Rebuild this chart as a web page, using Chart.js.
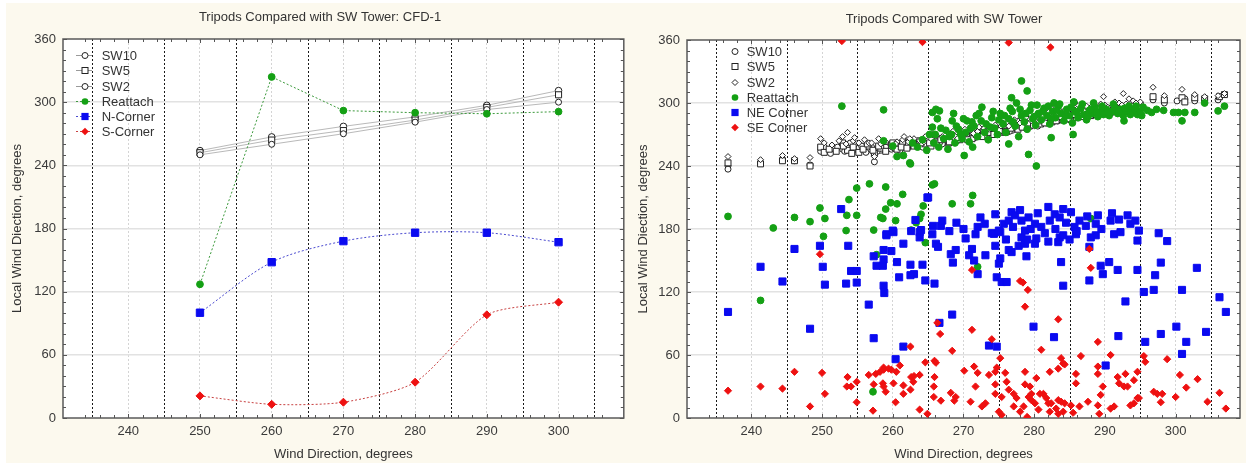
<!DOCTYPE html>
<html>
<head>
<meta charset="utf-8">
<script src="https://cdn.jsdelivr.net/npm/chart.js@4.4.1/dist/chart.umd.min.js"></script>
<style>
  html, body { margin:0; padding:0; background:#ffffff; }
  body { width:1246px; height:465px; position:relative; overflow:hidden; font-family:"Liberation Sans", Arial, sans-serif; }
  #panelBg { position:absolute; left:6px; top:3px; width:1240px; height:460px; background:#fcf9ee; }
  canvas { position:absolute; top:0; }
  .legend { position:absolute; font-size:13px; color:#333; line-height:15.3px; }
  .legend .item { height:15.3px; white-space:nowrap; position:relative; }
  .legend svg { position:absolute; top:0; }
  .legend span { position:absolute; top:0; }
</style>
</head>
<body>
<div id="panelBg"></div>
<canvas id="leftChart" width="630" height="465" style="left:0px"></canvas>
<canvas id="rightChart" width="616" height="465" style="left:630px"></canvas>
<div id="legendLeft" class="legend" style="left:74px; top:48px;"></div>
<div id="legendRight" class="legend" style="left:724px; top:44px;"></div>
<script>
// ---------------- DATA ----------------
const leftTitle = 'Tripods Compared with SW Tower: CFD-1';
const rightTitle = 'Tripods Compared with SW Tower';
const xAxisTitle = 'Wind Direction, degrees';
const yAxisTitle = 'Local Wind Diection, degrees';
const xTickLabels = [240, 250, 260, 270, 280, 290, 300];
const yTickLabels = [0, 60, 120, 180, 240, 300, 360];
const refLines = [235, 245, 255, 265, 275, 285, 295, 305];
const leftSeriesNames = ['SW10', 'SW5', 'SW2', 'Reattach', 'N-Corner', 'S-Corner'];
const rightSeriesNames = ['SW10', 'SW5', 'SW2', 'Reattach', 'NE Corner', 'SE Corner'];

// Left panel (CFD-1)
const leftWindDir = [250, 260, 270, 280, 290, 300];
const leftSW10 = [254, 267, 277, 286, 297, 311];
const leftSW5 = [252, 264, 273, 283, 295, 307];
const leftSW2 = [250, 260, 270, 281, 293, 300];
const leftReattach = [127, 324, 292, 290, 289, 291];
const leftNCorner = [100, 148, 168, 176, 176, 167];
const leftSCorner = [21, 13, 15, 34, 98, 110];

// Right panel (measured)
const rightSW10 = [[236.7,240],[236.7,237],[241.3,243],[244.4,246],[246.1,245],[248.3,241],[249.8,254],[250.3,258],[252.9,256],[253.6,260],[254.4,255],[255.2,257],[256.6,256],[257.4,244],[258.3,255],[259.0,258],[259.8,256],[260.6,259],[261.4,261],[262.2,258],[263.0,262],[263.8,260],[264.6,263],[265.4,262],[266.2,264],[267.0,261],[267.9,265],[268.7,263],[269.5,268],[270.4,266],[271.2,270],[272.0,268],[272.9,271],[273.7,270],[274.5,274],[275.3,272],[276.1,276],[276.9,274],[277.7,278],[278.5,277],[279.3,280],[280.1,279],[280.9,283],[281.7,281],[282.5,285],[283.3,283],[284.1,287],[285.0,284],[286.0,289],[287.0,287],[288.0,291],[289.0,289],[290.0,293],[291.0,291],[292.0,295],[293.0,293],[294.0,297],[295.0,295],[296.8,303],[298.4,300],[300.2,302],[301.3,304],[302.7,302],[304.1,302],[306.0,303],
  [251.2,252],[252.2,258],[253.2,254],[254.0,262],[255.6,259],[256.2,253],[257.0,258],[257.8,254],[260.2,257],[261.0,255],[261.8,263],[262.6,260],[264.2,258],[265.0,265],[266.6,262],[268.3,266],[269.1,264],[270.8,268],[271.6,267],[272.4,272],[273.3,269],[274.1,273],[274.9,271],[275.7,275],[276.5,273],[277.3,277],[278.1,279],[278.9,276],[279.7,281],[280.5,278],[281.3,284],[282.1,282],[282.9,286],[283.7,284],[284.6,288],[285.5,286],[286.5,290],[287.5,288],[288.5,292],[289.5,290],[290.5,294],[291.5,292],[292.5,296],[293.5,294],[294.5,296]];
const rightSW5 = [[236.7,243],[241.3,242],[244.4,245],[246.1,245],[248.3,240],[249.8,258],[250.3,253],[252.9,262],[253.6,255],[254.4,258],[255.2,253],[256.6,259],[257.4,252],[258.3,257],[259.0,254],[259.8,260],[260.6,256],[261.4,262],[262.2,261],[263.0,259],[263.8,264],[264.6,261],[265.4,259],[266.2,262],[267.0,266],[267.9,262],[268.7,267],[269.5,265],[270.4,269],[271.2,266],[272.0,271],[272.9,269],[273.7,273],[274.5,271],[275.3,275],[276.1,273],[276.9,277],[277.7,275],[278.5,280],[279.3,278],[280.1,282],[280.9,280],[281.7,284],[282.5,282],[283.3,286],[284.1,284],[285.0,288],[286.0,286],[287.0,290],[288.0,288],[289.0,292],[290.0,290],[291.0,294],[292.0,292],[293.0,296],[294.0,294],[295.0,298],[296.8,306],[298.4,303],[300.9,305],[301.3,301],[302.7,305],[304.1,304],[306.2,306],[306.9,308],
  [251.0,256],[252.0,254],[253.0,259],[254.2,252],[255.8,256],[256.4,261],[257.2,255],[258.0,259],[260.0,262],[261.2,258],[262.0,257],[262.8,263],[264.0,262],[265.2,262],[266.8,265],[268.0,263],[269.2,267],[270.6,265],[271.8,270],[272.6,268],[273.5,272],[274.3,270],[275.1,274],[275.9,272],[276.7,276],[277.5,279],[278.3,277],[279.1,281],[279.9,279],[280.7,283],[281.5,281],[282.3,285],[283.1,283],[283.9,287],[284.8,285],[285.7,289],[286.7,287],[287.7,291],[288.7,289],[289.7,293],[290.7,291],[291.7,295],[292.7,293],[293.7,297],[294.7,295]];
const rightSW2 = [[236.7,249],[241.3,246],[244.4,250],[246.1,247],[248.3,248],[249.8,266],[250.3,262],[252.9,268],[253.6,272],[254.4,264],[255.2,262],[256.6,262],[257.4,249],[258.3,261],[259.0,263],[259.8,258],[260.6,263],[261.4,265],[262.2,263],[263.0,266],[263.8,264],[264.6,268],[265.4,266],[266.2,269],[267.0,268],[267.9,271],[268.7,269],[269.5,272],[270.4,271],[271.2,274],[272.0,273],[272.9,276],[273.7,275],[274.5,279],[275.3,278],[276.1,281],[276.9,280],[277.7,283],[278.5,282],[279.3,285],[280.1,284],[280.9,288],[281.7,286],[282.5,290],[283.3,289],[284.1,292],[285.0,290],[286.0,294],[287.0,293],[288.0,296],[289.0,295],[290.0,298],[291.0,297],[292.0,300],[293.0,299],[294.0,302],[295.0,301],[296.8,315],[298.4,307],[300.9,313],[302.7,308],[304.1,306],[306.0,307],[306.9,309],
  [251.4,260],[252.4,264],[253.4,261],[254.6,267],[256.0,265],[257.0,262],[258.0,266],[260.4,261],[261.6,268],[262.4,266],[264.4,263],[265.6,270],[267.2,266],[268.5,273],[270.2,275],[271.4,271],[272.2,277],[273.1,273],[274.0,277],[275.6,281],[276.4,278],[277.2,284],[278.0,281],[278.8,286],[279.6,283],[280.4,289],[281.2,287],[282.0,291],[282.8,288],[283.6,293],[284.5,290],[285.4,295],[286.4,292],[287.4,297],[288.4,294],[289.4,299],[290.4,296],[291.4,301],[292.4,298],[293.4,304],[294.4,300],[289.8,306],[292.6,309],[285.8,300],[283.0,297]];
const rightReattach = [[252.8,297],[258.7,293.5],[265.6,291],[266.1,294],[266.6,292.5],[272.6,296],[276.8,305],[278.2,321],[279.0,311.5],
  [260.0,259],[260.6,249],[261.5,250],[262.4,243],[262.5,242],[258.7,264],[265.6,277],[268.4,283],[270.1,250],[271.3,258],[276.4,261],[279.2,251],[280.3,240],[282.4,267],[285.5,270],
  [292.7,283],[295.2,288],[296.6,291],[297.3,294],[298.3,293],[299.7,291],[300.4,291],[300.9,283],[301.3,291],[302.7,291],[304.1,300],[306.0,292.5],[306.9,297],
  [236.7,192],[241.3,112],[243.1,181],[246.1,191],[248.3,187],[249.7,200],[250.4,190],[250.2,173],[253.5,193],[254.9,193],[253.4,178.5],[253.8,208],[254.9,219],[256.7,223],[257.3,179],[257.2,25],[257.7,155.5],[258.3,191],[258.6,190],[259.0,220],[259.7,205],[259.0,199],[260.6,204],[261.4,213],[260.4,188],[262.6,179],[263.8,190],[264.0,194],[265.6,222],[264.6,167],[265.9,223],[268.4,204],[271.0,204],[271.3,212],[272.0,144],[288.0,190],[263.3,186],[264.3,202],
  [262.8,262],[263.5,258],[264.2,265],[264.8,255],[265.2,270],[265.8,262],[266.5,258],[267.2,266],[267.8,256],[268.3,270],[268.8,262],[269.3,275],[269.8,266],[270.3,272],
  [270.8,263],[271.5,278],[272.0,268],[272.5,283],[273.0,272],[273.5,265],[274.0,286],[274.4,276],[274.8,270],[275.2,290],
  [275.6,280],[276.0,272],[276.4,285],[276.9,292],[277.3,278],[277.8,268],[278.2,288],[278.6,282],[279.0,275],[279.4,293],[279.8,285],
  [280.2,279],[280.6,290],[281.0,284],[281.4,295],[281.8,288],[282.2,280],[282.6,292],[283.0,286],[283.4,297],[283.8,290],[284.2,283],[284.6,294],[285.0,288],
  [285.4,281],[285.8,292],[286.2,286],[286.6,295],[287.0,289],[287.4,284],[287.8,293],[288.2,290],[288.6,296],[289.0,287],[289.4,292],[289.8,289],
  [290.2,294],[290.6,288],[291.0,292],[291.4,296],[291.8,290],[292.2,294],[292.6,288],[293.0,292],[293.4,297],[293.8,291],[294.2,294],[294.6,289],[295.0,292],[295.4,296],[296.0,293],
  [270.5,283],[271.8,288],[268.6,290],[266.3,285],[277.5,300],[280.4,298],[282.8,300],[285.6,301],[288.4,300],
  [266.0,270],[267.5,274],[269.0,278],[270.0,285],[271.0,276],[272.2,290],[273.2,280],[274.2,292],[275.0,284],[275.8,288],[276.6,295],[277.0,282],[278.0,294],[278.8,290],[279.6,298],[280.0,287],[281.2,292],[282.0,297],[282.4,285],[283.2,293],[283.6,299],[284.4,288],[285.2,296],[286.0,291],[286.8,299],[287.6,287],[288.0,294],[288.8,291],[289.6,297],[290.4,291],[291.2,299],[292.0,292],[292.8,295],[293.6,289],[294.4,297],[266.8,276],[268.0,268],[269.6,270],[271.2,282],[273.8,277]];
const rightNECorner = [[236.7,101],[241.3,144],[244.4,130],[246.1,161],[248.3,85],[249.7,164],[250.1,144],[250.4,127],[253.4,128],[253.7,164],[254.1,140],[254.9,140],[254.9,129],[256.6,108],[257.3,154],[257.3,76],[257.7,145],[258.6,145],[258.7,160],[258.7,151],[258.7,126],[258.8,119],[259.1,174],[260.1,177],[259.8,159],[260.6,148.5],[260.4,56],[260.9,134],[261.5,68],[261.5,166],[262.6,178],[263.8,177],[263.8,172],[262.5,146],[263.0,137],[262.5,136],[264.2,146],[264.6,131],[265.6,175],[265.9,128],
  [252.7,199],[259.1,175],[260.0,178.5],[263.2,188.6],[264.0,179],[264.9,210],
  [266.1,166],[266.4,163],[268.2,156],[268.9,160],[268.5,148],[270.3,171],[271.7,175],[271.2,161],[270.8,155],[271.5,150],[272.0,137],[273.1,155],[274.5,164],[275.0,147],[275.2,152],[274.7,134],[275.4,129.5],[276.1,129.5],[276.4,160],[276.8,158],[277.8,164],[278.2,172],[278.7,166],[278.9,154],[280.1,166],[280.3,171],[283.4,167.5],[283.6,172],[284.1,174],[283.8,148.5],[284.1,126],[285.9,175],[287.8,163],[287.8,131],[288.7,174],[289.4,145],[289.7,137],[290.6,148.5],[291.8,141],[291.3,175],[294.6,169],[294.6,141],[295.5,120],[296.9,122],[297.1,136],[297.6,176],[297.9,148],[298.8,168.5],[300.9,122],[292.9,111],[303.0,143],[306.2,115],[307.1,101],[304.3,82],[301.5,72.5],[300.1,87],[300.9,61],[297.9,80],[295.7,72.5],[291.9,78],[290.1,50],[282.8,77],[279.9,87],[273.6,69],[274.7,68],[268.4,98.5],[266.6,90.6],
  [274.3,175.4],[275.2,177],[292.2,177],
  [265.0,210],[265.7,183],[266.8,183],[272.0,182],[272.4,191],[274.5,194],[275.0,178.5],[275.7,185],[276.8,196],[276.4,188],[277.3,193],[278.2,188],[278.7,178.5],[279.2,191],[280.1,185],[281.0,182],[282.0,201],[282.2,188],[282.9,194],[283.6,191],[284.1,199],[285.2,196],[285.7,182],[286.4,188],[287.3,183],[289.0,193],[288.7,185],[290.8,188],[292.0,189],[293.2,193],[293.6,185],[294.3,188],[294.8,178.5],
  [277.0,182],[278.0,198],[279.5,180],[280.5,195],[281.5,176],[283.0,180],[284.5,186],[286.0,178],[287.5,192],[289.5,180],[291.0,195],[276.0,170],[279.0,170],[282.0,168],[285.0,170],[288.0,172],[273.0,185],[274.0,176],[270.0,180],[269.0,186],[268.0,178],[267.0,188]];
const rightSECorner = [[252.8,359],[264.2,358],[276.4,357.5],[282.3,353],
  [236.7,26],[241.3,30],[244.4,28],[246.1,44],[248.3,11],[249.7,156],[250.0,43],[250.4,23],[253.6,39],[253.5,30],[254.1,30],[254.9,34.5],[254.9,15],[256.6,41],[257.3,32],[257.2,7],[257.6,42],[258.2,44],[258.7,48],[258.7,46],[259.4,47],[259.8,46],[258.6,33],[258.7,30],[259.0,25],[260.1,33],[260.5,44],[260.4,15],[261.0,50],[261.5,31],[261.5,23],[262.5,68],[262.6,39],[263.0,40],[262.5,27],[262.9,34.5],[263.8,41],[263.8,8],[264.6,53],[264.9,4],[265.9,54.5],[265.9,39],[265.8,30],[265.8,20],
  [266.3,90.6],[266.7,80],[271.2,141],[278.0,130.5],[278.4,129],[279.1,122],[278.7,106],[283.4,94],[287.8,161],[288.0,143],[271.2,84],[274.0,75],[268.4,64],[281.0,65],[289.0,72.5],[275.2,57],[283.8,57],[284.1,52],[286.6,59],[290.8,60],[295.5,59],[295.7,53.5],[298.8,56],[266.1,52.6],[270.1,45],[271.5,49],[272.0,43],[273.6,41],[274.5,44],[274.7,48],[275.9,43],[278.7,44],[280.3,38],[282.2,44],[283.4,47],[284.3,51],[285.9,42],[285.9,33],[289.0,49],[289.0,42],[289.7,30],[289.4,22],[291.8,39],[292.0,33],[292.9,42],[293.2,30],[294.6,44],[294.1,36],[294.8,19],[294.1,14],[296.9,25],[297.4,23],[298.1,23],[297.9,15],[300.6,41],[301.5,29],[303.1,37],[304.5,15.5],[306.2,24],[307.1,9],[300.0,20],
  [266.8,16.5],[268.2,24],[268.7,16.5],[268.9,20],[271.0,15.5],[271.7,30],[272.6,11],[273.1,14],[274.5,32],[274.5,23],[275.4,20],[275.0,6],[275.4,3],[276.1,34.5],[276.4,27],[277.1,23],[277.5,19],[277.1,11],[278.0,6],[278.7,32],[279.4,30],[279.6,23],[279.2,20],[279.6,17],[280.1,14],[280.6,8],[279.0,1],[278.5,11],[280.8,23],[281.3,23],[281.7,19],[282.0,14],[282.4,14],[283.1,9],[283.4,4],[282.2,6],[283.4,17],[283.8,15.5],[284.3,14],[284.1,6],[285.2,12],[285.5,5],[286.4,11],[287.6,15.5],[289.0,12],[289.2,4],[290.8,9],[291.3,11],[292.7,30],[293.6,12],[294.6,19]];

// ---------------- STYLE ----------------
const FONT = '"Liberation Sans", Arial, Helvetica, sans-serif';
Chart.defaults.font.family = FONT;
Chart.defaults.font.size = 13;
Chart.defaults.color = '#333';
const GREEN = '#14a014', BLUE = '#0a0af0', RED = '#ee1111';

const toXY = (xs, ys) => xs.map((x, i) => ({x: x, y: ys[i]}));
const pairs = arr => arr.map(p => ({x: p[0], y: p[1]}));

const framePlugin = {
  id: 'frame',
  beforeDraw(chart) {
    const {ctx, chartArea: a} = chart;
    ctx.save();
    ctx.fillStyle = '#ffffff';
    ctx.fillRect(a.left, a.top, a.right - a.left, a.bottom - a.top);
    ctx.restore();
  },
  beforeDatasetsDraw(chart) {
    const {ctx, chartArea: a, scales} = chart;
    const xs = scales.x, ys = scales.y;
    ctx.save();
    ctx.strokeStyle = '#1a1a1a';
    ctx.lineWidth = 1;
    ctx.setLineDash([2, 2]);
    refLines.forEach(v => {
      const px = Math.round(xs.getPixelForValue(v)) + 0.5;
      ctx.beginPath(); ctx.moveTo(px, a.top); ctx.lineTo(px, a.bottom); ctx.stroke();
    });
    ctx.setLineDash([]);
    ctx.strokeStyle = '#5a5a5a';
    ctx.lineWidth = 1.5;
    ctx.strokeRect(a.left, a.top, a.right - a.left, a.bottom - a.top);
    ctx.lineWidth = 1;
    ctx.strokeStyle = '#555';
    xs.ticks.forEach(t => {
      if (!Number.isInteger(t.value)) return;
      const px = Math.round(xs.getPixelForValue(t.value)) + 0.5;
      const len = xTickLabels.includes(t.value) ? 4 : 3;
      ctx.beginPath();
      ctx.moveTo(px, a.top); ctx.lineTo(px, a.top + len);
      ctx.moveTo(px, a.bottom); ctx.lineTo(px, a.bottom - len);
      ctx.stroke();
    });
    ys.ticks.forEach(t => {
      const py = Math.round(ys.getPixelForValue(t.value)) + 0.5;
      const len = yTickLabels.includes(t.value) ? 4 : 3;
      ctx.beginPath();
      ctx.moveTo(a.left, py); ctx.lineTo(a.left + len, py);
      ctx.moveTo(a.right, py); ctx.lineTo(a.right - len, py);
      ctx.stroke();
    });
    ctx.restore();
  }
};

function makeOptions(cfg) {
  return {
    responsive: false,
    animation: false,
    devicePixelRatio: 1,
    layout: { padding: { left: cfg.padLeft, right: cfg.padRight, top: 0, bottom: 0 } },
    plugins: {
      legend: { display: false },
      tooltip: { enabled: false },
      title: {
        display: true, text: cfg.title, color: '#333',
        font: { size: 13, weight: 'normal', family: FONT },
        padding: { top: cfg.titleTop, bottom: cfg.titleBottom }
      }
    },
    scales: {
      x: {
        type: 'linear', min: 230.9, max: 309.1,
        afterFit: s => { s.height = 47; },
        ticks: {
          stepSize: 2, autoSkip: false, maxRotation: 0, padding: 6, color: '#3a3a3a',
          callback: v => xTickLabels.includes(v) ? String(v) : ''
        },
        grid: {
          drawTicks: false,
          color: c => (c.tick && xTickLabels.includes(c.tick.value)) ? '#d4d4d4' : 'rgba(0,0,0,0)',
          lineWidth: 1
        },
        border: { display: false, dash: [2, 2] },
        title: { display: true, text: xAxisTitle, color: '#333', font: { size: 13, family: FONT }, padding: { top: 4, bottom: 3 } }
      },
      y: {
        type: 'linear', min: 0, max: 360,
        afterFit: s => { s.width = cfg.yWidth; },
        ticks: {
          stepSize: 10, autoSkip: false, padding: 7, color: '#3a3a3a',
          callback: v => yTickLabels.includes(v) ? String(v) : ''
        },
        grid: {
          drawTicks: false,
          color: c => (c.tick && yTickLabels.includes(c.tick.value) && c.tick.value > 0 && c.tick.value < 360) ? '#e2e2e2' : 'rgba(0,0,0,0)',
          lineWidth: 1.5
        },
        border: { display: false },
        title: { display: true, text: yAxisTitle, color: '#333', font: { size: 13, family: FONT }, padding: { top: cfg.yTitlePad, bottom: 0 } }
      }
    }
  };
}

// ---------------- LEFT CHART ----------------
const swStyle = (style, r) => ({
  pointStyle: style, pointRadius: r, pointBorderColor: '#222', pointBackgroundColor: '#fff', pointBorderWidth: 1
});
new Chart(document.getElementById('leftChart'), {
  type: 'scatter',
  data: {
    datasets: [
      Object.assign({ label: leftSeriesNames[0], data: toXY(leftWindDir, leftSW10), showLine: true, borderColor: '#b9b9b9', borderWidth: 1, tension: 0, order: 6 }, swStyle('circle', 3.3)),
      Object.assign({ label: leftSeriesNames[1], data: toXY(leftWindDir, leftSW5), showLine: true, borderColor: '#b9b9b9', borderWidth: 1, tension: 0, order: 5 }, swStyle('rect', 4.3)),
      Object.assign({ label: leftSeriesNames[2], data: toXY(leftWindDir, leftSW2), showLine: true, borderColor: '#b9b9b9', borderWidth: 1, tension: 0, order: 4 }, swStyle('circle', 3.0)),
      { label: leftSeriesNames[3], data: toXY(leftWindDir, leftReattach), showLine: true, borderColor: '#3c9a3c', borderWidth: 1, borderDash: [2, 2], tension: 0,
        pointStyle: 'circle', pointRadius: 3.4, pointBackgroundColor: GREEN, pointBorderColor: GREEN, order: 3 },
      { label: leftSeriesNames[4], data: toXY(leftWindDir, leftNCorner), showLine: true, borderColor: '#4a4ad0', borderWidth: 1, borderDash: [2, 2], tension: 0.3,
        pointStyle: 'rect', pointRadius: 5.2, pointBackgroundColor: BLUE, pointBorderColor: BLUE, order: 2 },
      { label: leftSeriesNames[5], data: toXY(leftWindDir, leftSCorner), showLine: true, borderColor: '#c84040', borderWidth: 1, borderDash: [2, 2], tension: 0.25,
        pointStyle: 'rectRot', pointRadius: 4.0, pointBackgroundColor: RED, pointBorderColor: RED, order: 1 }
    ]
  },
  options: makeOptions({ title: leftTitle, padLeft: 14, padRight: 4, titleTop: 10, titleBottom: 13.4, yWidth: 49, yTitlePad: -4 }),
  plugins: [framePlugin]
});

// ---------------- RIGHT CHART ----------------
new Chart(document.getElementById('rightChart'), {
  type: 'scatter',
  data: {
    datasets: [
      Object.assign({ label: rightSeriesNames[0], data: pairs(rightSW10), order: 6 }, swStyle('circle', 3.0)),
      Object.assign({ label: rightSeriesNames[1], data: pairs(rightSW5), order: 5 }, swStyle('rect', 4.2)),
      Object.assign({ label: rightSeriesNames[2], data: pairs(rightSW2), order: 4 }, swStyle('rectRot', 3.0)),
      { label: rightSeriesNames[3], data: pairs(rightReattach), pointStyle: 'circle', pointRadius: 3.4, pointBackgroundColor: GREEN, pointBorderColor: GREEN, order: 3 },
      { label: rightSeriesNames[4], data: pairs(rightNECorner), pointStyle: 'rect', pointRadius: 5.0, pointBackgroundColor: BLUE, pointBorderColor: BLUE, order: 2 },
      { label: rightSeriesNames[5], data: pairs(rightSECorner), pointStyle: 'rectRot', pointRadius: 3.6, pointBackgroundColor: RED, pointBorderColor: RED, order: 1 }
    ]
  },
  options: makeOptions({ title: rightTitle, padLeft: 13, padRight: 1, titleTop: 12, titleBottom: 12.4, yWidth: 44, yTitlePad: -7.8 }),
  plugins: [framePlugin]
});

// ---------------- LEGENDS (HTML) ----------------
function markerSvg(kind, withLine, lineColor, dashed) {
  let s = '<svg width="30" height="15" viewBox="0 0 30 15" xmlns="http://www.w3.org/2000/svg">';
  if (withLine) {
    s += '<line x1="2" y1="7.5" x2="18" y2="7.5" stroke="' + lineColor + '" stroke-width="1"' + (dashed ? ' stroke-dasharray="2,2"' : '') + '/>';
  }
  const cx = 11, cy = 7.5;
  if (kind === 'circleHollow') s += '<circle cx="' + cx + '" cy="' + cy + '" r="3" fill="#fff" stroke="#222" stroke-width="1"/>';
  if (kind === 'rectHollow') s += '<rect x="' + (cx - 3) + '" y="' + (cy - 3) + '" width="6" height="6" fill="#fff" stroke="#222" stroke-width="1"/>';
  if (kind === 'diamondHollow') s += '<polygon points="' + cx + ',' + (cy - 3) + ' ' + (cx + 3) + ',' + cy + ' ' + cx + ',' + (cy + 3) + ' ' + (cx - 3) + ',' + cy + '" fill="#fff" stroke="#222" stroke-width="1"/>';
  if (kind === 'circle') s += '<circle cx="' + cx + '" cy="' + cy + '" r="3.3" fill="' + GREEN + '"/>';
  if (kind === 'rect') s += '<rect x="' + (cx - 3.6) + '" y="' + (cy - 3.6) + '" width="7.2" height="7.2" fill="' + BLUE + '"/>';
  if (kind === 'diamond') s += '<polygon points="' + cx + ',' + (cy - 3.8) + ' ' + (cx + 3.8) + ',' + cy + ' ' + cx + ',' + (cy + 3.8) + ' ' + (cx - 3.8) + ',' + cy + '" fill="' + RED + '"/>';
  return s + '</svg>';
}
function buildLegend(el, names, kinds, lines, textX) {
  names.forEach((n, i) => {
    const d = document.createElement('div');
    d.className = 'item';
    d.innerHTML = markerSvg(kinds[i], !!lines, lines ? lines[i][0] : null, lines ? lines[i][1] : false) + '<span style="left:' + textX + 'px">' + n + '</span>';
    el.appendChild(d);
  });
}
buildLegend(document.getElementById('legendLeft'), leftSeriesNames,
  ['circleHollow', 'rectHollow', 'circleHollow', 'circle', 'rect', 'diamond'],
  [['#9a9a9a', false], ['#9a9a9a', false], ['#9a9a9a', false], ['#3c9a3c', true], ['#4a4ad0', true], ['#c84040', true]], 27.7);
buildLegend(document.getElementById('legendRight'), rightSeriesNames,
  ['circleHollow', 'rectHollow', 'diamondHollow', 'circle', 'rect', 'diamond'], null, 22.7);
</script>
</body>
</html>
